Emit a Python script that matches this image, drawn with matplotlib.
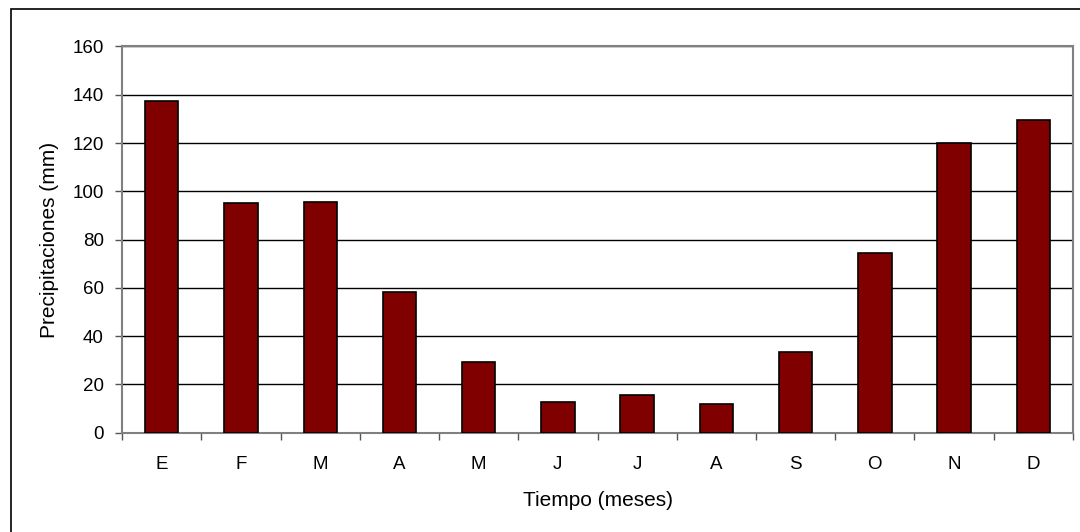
import matplotlib.pyplot as plt
from matplotlib.patches import Rectangle

meses = ['E', 'F', 'M', 'A', 'M', 'J', 'J', 'A', 'S', 'O', 'N', 'D']
precipitaciones = [137.4, 95.1, 95.5, 58.2, 29.2, 12.5, 15.4, 11.8, 33.4, 74.4, 120.1, 129.5]

plt.rcParams['font.family'] = ['Liberation Sans', 'DejaVu Sans']

fig = plt.figure(figsize=(10.8, 5.32), dpi=100)
ax = fig.add_axes([0.113, 0.187, 0.8805, 0.7256])

x = range(len(meses))
ax.bar(x, precipitaciones, width=0.42, color='#800000', edgecolor='black', linewidth=1.2, zorder=3)

ax.set_xlim(-0.5, len(meses) - 0.5)
ax.set_ylim(0, 160)
ax.set_yticks(range(0, 161, 20))
ax.yaxis.grid(True, color='black', linewidth=1, zorder=0)

# category ticks at boundaries, labels at centres
ax.set_xticks([i - 0.5 for i in range(len(meses) + 1)])
ax.set_xticklabels([])
ax.set_xticks(list(x), minor=True)
ax.set_xticklabels(meses, minor=True, fontsize=13.5)
ax.tick_params(axis='x', which='major', direction='out', length=5, color='#555555', width=1)
ax.tick_params(axis='x', which='minor', length=0, pad=17)
ax.tick_params(axis='y', direction='out', length=5, color='#555555', width=1, labelsize=13.5, pad=8)

for s in ax.spines.values():
    s.set_color('#808080')
    s.set_linewidth(1.5)

ax.set_xlabel('Tiempo (meses)', fontsize=15, labelpad=13)
ax.set_ylabel('Precipitaciones (mm)', fontsize=15, labelpad=10)

# outer chart border
fig.patches.append(Rectangle((11 / 1080, -0.1), 1.2, (532 - 9) / 532 + 0.1,
                             transform=fig.transFigure, fill=False,
                             edgecolor='black', linewidth=1.2))

fig.savefig('out.png', dpi=100)
